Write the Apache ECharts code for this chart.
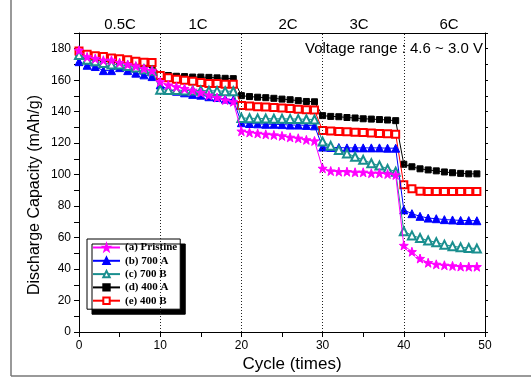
<!DOCTYPE html>
<html><head><meta charset="utf-8">
<script src="https://cdn.jsdelivr.net/npm/echarts@6/dist/echarts.min.js"></script>
<style>html,body{margin:0;padding:0;background:#fff}#c{width:531px;height:377px}</style>
</head><body><div id="c"></div>
<script>
const cycles = [0,1,2,3,4,5,6,7,8,9,10,11,12,13,14,15,16,17,18,19,20,21,22,23,24,25,26,27,28,29,30,31,32,33,34,35,36,37,38,39,40,41,42,43,44,45,46,47,48,49];
const seriesNames = ['(a) Pristine', '(b) 700 A', '(c) 700 B', '(d) 400 A', '(e) 400 B'];
const rateLabels = ['0.5C', '1C', '2C', '3C', '6C'];
const rateBoundaries = [10, 20, 30, 40];
const xTickLabels = [0, 10, 20, 30, 40, 50];
const yTickLabels = [0, 20, 40, 60, 80, 100, 120, 140, 160, 180];

const pristine = [179, 174.8, 173.8, 172.7, 172.7, 171.2, 170, 169, 167.4, 166,
  159, 156.9, 155.8, 154.7, 153.6, 152.2, 150.5, 149, 147.4, 146.3,
  127.6, 126.8, 126.2, 125.6, 125.2, 124.6, 123.7, 123.1, 122.1, 121.4,
  104, 102.3, 101.9, 101.9, 101.5, 101.5, 100.9, 100.9, 100.4, 99.8,
  55, 51, 46.7, 44, 43, 42.4, 42, 41.6, 41.5, 41.5];
const s700A = [171.8, 169.5, 168.7, 166.1, 166.1, 168, 166.1, 164.5, 163.4, 162.3,
  157, 154, 153, 152, 151, 150.5, 149.5, 149, 148, 147.5,
  133, 132.5, 132.3, 132, 132, 131.8, 131.5, 131.5, 131.3, 131,
  117.5, 117.3, 117.2, 117, 117, 117, 117, 117, 116.8, 116.8,
  77.6, 75.2, 73.5, 72.4, 72, 71.4, 71.2, 70.9, 70.8, 70.7];
const s700B = [176, 173, 172, 171, 170, 170, 169, 168, 167, 166,
  154, 153.8, 153.7, 153.5, 153.5, 153.5, 153.3, 153.2, 153, 153,
  136, 135.8, 135.7, 135.6, 135.5, 135.5, 135.4, 135.3, 135.2, 135,
  121, 118.3, 115.7, 113.5, 111.4, 109.4, 107.2, 105.8, 103.6, 101.9,
  64, 61.4, 59.7, 58.1, 57, 55.5, 54.5, 53.8, 53.4, 53];
const s400A = [177.1, 175, 174, 173.5, 172.6, 172.2, 171.5, 170.5, 169.9, 169.7,
  163.5, 163, 162.5, 162.3, 162, 162, 161.8, 161.5, 161.2, 161,
  150.2, 149.6, 149.2, 148.9, 148.5, 148, 147.6, 147, 146.5, 146.3,
  137.5, 137, 136.8, 136.3, 136, 135.5, 135.3, 135, 134.7, 134.3,
  106.6, 105, 103.7, 103, 102.4, 101.7, 101.2, 100.8, 100.5, 100.5];
const s400B = [178.6, 176.5, 175.5, 175, 174.1, 173.7, 173, 172, 171.4, 171.2,
  163, 161.5, 160.6, 160, 159.3, 158.5, 157.9, 157.9, 157.5, 157.4,
  144, 143.6, 143.2, 143, 142.7, 142.4, 142, 141.6, 141.2, 141,
  128, 127.7, 127.4, 127.2, 127, 126.8, 126.5, 126.2, 126, 125.7,
  93.5, 91, 89.5, 89.3, 89.3, 89.3, 89.3, 89.3, 89.3, 89.3];

const pair = arr => cycles.map((c, i) => [c, arr[i]]);
const star = 'path://M0,-10 L2.35,-3.24 L9.51,-3.09 L3.8,1.24 L5.88,8.09 L0,4 L-5.88,8.09 L-3.8,1.24 L-9.51,-3.09 L-2.35,-3.24 Z';
const FONT = 'Liberation Sans, Arial, sans-serif';

const chart = echarts.init(document.getElementById('c'), null, {renderer: 'canvas'});

function mk(name, data, color, symbol, size, z, extra) {
  return Object.assign({
    name, type: 'line', data: pair(data), symbol, symbolSize: size, z,
    lineStyle: {color, width: 1},
    itemStyle: {color, borderColor: color, borderWidth: 1},
    animation: false
  }, extra || {});
}

const series = [
  mk(seriesNames[3], s400A, '#000000', 'rect', 6, 2, {
    markLine: {silent: true, symbol: ['none', 'none'], animation: false,
      label: {show: false},
      lineStyle: {type: [1, 2], color: '#222', width: 1},
      data: rateBoundaries.map(b => ({xAxis: b}))}
  }),
  mk(seriesNames[4], s400B, '#ff0000', 'emptyRect', 7, 3),
  mk(seriesNames[1], s700A, '#0000ff', 'triangle', 8, 4),
  mk(seriesNames[2], s700B, '#1a8f8f', 'emptyTriangle', 8, 5),
  mk(seriesNames[0], pristine, '#ff00ff', star, 9, 6)
];

const rateX = [120, 198, 288, 359, 449];

chart.setOption({
  backgroundColor: '#fff',
  animation: false,
  grid: {left: 79, right: 46, top: 33, bottom: 45, containLabel: false},
  xAxis: [{
    type: 'value', min: 0, max: 50, interval: 5, position: 'bottom',
    axisLine: {show: true, onZero: false, lineStyle: {color: '#000', width: 1}},
    axisTick: {show: true, inside: false, length: 5, lineStyle: {color: '#000'}},
    axisLabel: {margin: 8, color: '#000', fontSize: 12, fontFamily: FONT,
      formatter: v => xTickLabels.includes(v) ? String(v) : ''},
    splitLine: {show: false}
  }, {
    type: 'value', min: 0, max: 50, interval: 5, position: 'top',
    axisLine: {show: true, onZero: false, lineStyle: {color: '#000', width: 1}},
    axisTick: {show: false}, axisLabel: {show: false}, splitLine: {show: false}
  }],
  yAxis: [{
    type: 'value', min: 0, max: 190, interval: 10, position: 'left',
    axisLine: {show: true, onZero: false, lineStyle: {color: '#000', width: 1}},
    axisTick: {show: true, inside: false, length: 5, lineStyle: {color: '#000'}},
    axisLabel: {margin: 8, color: '#000', fontSize: 12, fontFamily: FONT,
      formatter: v => yTickLabels.includes(v) ? String(v) : ''},
    splitLine: {show: false}
  }, {
    type: 'value', min: 0, max: 190, interval: 10, position: 'right',
    axisLine: {show: true, onZero: false, lineStyle: {color: '#000', width: 1}},
    axisTick: {show: true, inside: false, length: 3, lineStyle: {color: '#000'}},
    axisLabel: {show: false}, splitLine: {show: false}
  }],
  legend: {
    orient: 'vertical', left: 87, top: 239, padding: [3, 3, 3, 5], itemGap: 2.3,
    itemWidth: 27, itemHeight: 8,
    backgroundColor: '#fff', borderColor: '#000', borderWidth: 1,
    shadowColor: '#000', shadowOffsetX: 5, shadowOffsetY: 5, shadowBlur: 0,
    textStyle: {fontFamily: 'Liberation Serif, Times New Roman, serif', fontWeight: 'bold', fontSize: 11, lineHeight: 11, color: '#000'},
    data: seriesNames
  },
  graphic: [
    {type: 'line', shape: {x1: 11, y1: -2, x2: 11, y2: 376}, style: {stroke: '#777', lineWidth: 1.5}, silent: true},
    {type: 'line', shape: {x1: 11, y1: 376, x2: 533, y2: 376}, style: {stroke: '#777', lineWidth: 1.5}, silent: true},
    ...rateLabels.map((t, i) => ({type: 'text', x: rateX[i], y: 25, silent: true,
      style: {text: t, fill: '#000', font: '15px ' + FONT, textAlign: 'center', textVerticalAlign: 'middle'}})),
    {type: 'text', x: 483, y: 49, silent: true,
      style: {text: 'Voltage range : 4.6 ~ 3.0 V', fill: '#000', font: '15px ' + FONT, textAlign: 'right', textVerticalAlign: 'middle'}},
    {type: 'text', x: 292, y: 364, silent: true,
      style: {text: 'Cycle (times)', fill: '#000', font: '17px ' + FONT, textAlign: 'center', textVerticalAlign: 'middle'}},
    {type: 'text', x: 35, y: 195, rotation: Math.PI / 2, silent: true,
      style: {text: 'Discharge Capacity (mAh/g)', fill: '#000', font: '16px ' + FONT, textAlign: 'center', textVerticalAlign: 'middle'}}
  ],
  series
});
</script></body></html>
